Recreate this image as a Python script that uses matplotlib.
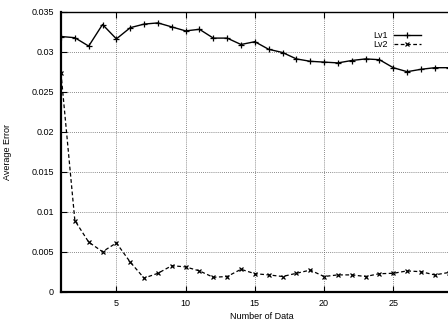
import matplotlib
matplotlib.use("Agg")
import matplotlib.pyplot as plt
from matplotlib.ticker import FuncFormatter

n_data = list(range(1, 30))
lv1 = [0.0319, 0.03175, 0.0307, 0.0334, 0.0316, 0.0330, 0.03345, 0.0336, 0.0331, 0.0326,
       0.0328, 0.0317, 0.0317, 0.0309, 0.03125, 0.0303, 0.0299, 0.0291, 0.0288, 0.0287,
       0.0286, 0.0289, 0.0291, 0.0290, 0.0280, 0.0275, 0.0278, 0.0280, 0.0280]
lv2 = [0.0273, 0.0089, 0.0062, 0.0050, 0.0061, 0.0037, 0.0017, 0.0023, 0.00325, 0.0031,
       0.0026, 0.0018, 0.0019, 0.0028, 0.00225, 0.0021, 0.0019, 0.0023, 0.0027, 0.0019,
       0.0021, 0.0021, 0.0019, 0.00225, 0.0023, 0.0026, 0.0025, 0.0021, 0.0024]
xticks = [5, 10, 15, 20, 25]
yticks = [0, 0.005, 0.01, 0.015, 0.02, 0.025, 0.03, 0.035]

plt.rcParams['font.family'] = ['Liberation Sans', 'DejaVu Sans']
fig = plt.figure(figsize=(4.48, 3.23), dpi=100)
# axes runs past the right edge, like the cropped original
ax = fig.add_axes([61 / 448, 31.3 / 323, 401.5 / 448, 280 / 323])

ax.plot(n_data, lv1, color="black", lw=1.0, marker="+", ms=4, mew=0.9, label="Lv1")
ax.plot(n_data, lv2, color="black", lw=0.9, ls=(0, (3, 2)), marker="x", ms=3.5, mew=0.9,
        label="Lv2")

ax.set_xlim(1, 30)
ax.set_ylim(0, 0.035)
ax.set_xticks(xticks)
ax.set_yticks(yticks)
ax.yaxis.set_major_formatter(FuncFormatter(lambda v, p: "%g" % v))
ax.tick_params(direction="in", length=4, width=0.8, labelsize=6.5, top=True, right=True,
               pad=5, colors="black")
ax.grid(True, color="#666666", ls=(0, (1, 1.5)), lw=0.6)
for s in ["left", "bottom"]:
    ax.spines[s].set_linewidth(1.6)
for s in ["top", "right"]:
    ax.spines[s].set_linewidth(1.0)

ax.set_xlabel("Number of Data", fontsize=6.5, labelpad=3)
ax.set_ylabel("Average Error", fontsize=6.5, labelpad=14)

leg = ax.legend(loc="upper right", bbox_to_anchor=(0.905, 0.945), frameon=False,
                markerfirst=False, fontsize=6.5, handlelength=3.0, handletextpad=0.6,
                labelspacing=0.05, borderaxespad=0)

fig.savefig("out.png", dpi=100)
